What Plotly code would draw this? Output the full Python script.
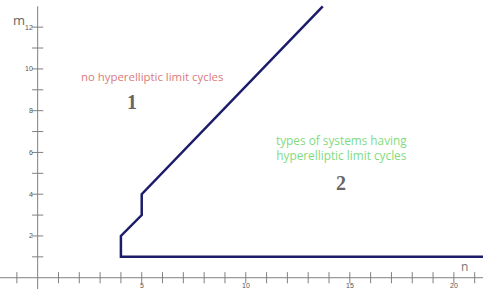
import plotly.graph_objects as go

# Boundary curve separating region 1 and region 2
boundary_n = [21.6, 4, 4, 5, 5, 13.7]
boundary_m = [1, 1, 2, 3, 4, 13.0]

# Axis ticks
x_ticks = [-1] + list(range(1, 22))
x_tick_labels = [5, 10, 15, 20]
y_ticks = list(range(1, 13))
y_tick_labels = [2, 4, 6, 8, 10, 12]

x_range = [-1.81, 21.4]
y_range = [-0.54, 13.3]

fig = go.Figure()

axis_col = "#808080"
# axis lines
fig.add_trace(go.Scatter(x=[x_range[0], x_range[1]], y=[0, 0], mode="lines",
                         line=dict(color=axis_col, width=1), hoverinfo="skip"))
fig.add_trace(go.Scatter(x=[0, 0], y=[y_range[0], 13.0], mode="lines",
                         line=dict(color=axis_col, width=1), hoverinfo="skip"))
# tick marks
fig.add_trace(go.Scatter(x=x_ticks, y=[0] * len(x_ticks), mode="markers",
                         marker=dict(symbol="line-ns", size=8, line=dict(color=axis_col, width=1)),
                         hoverinfo="skip"))
fig.add_trace(go.Scatter(x=[0] * len(y_ticks), y=y_ticks, mode="markers",
                         marker=dict(symbol="line-ew", size=8, line=dict(color=axis_col, width=1)),
                         hoverinfo="skip"))

# boundary
fig.add_trace(go.Scatter(x=boundary_n, y=boundary_m, mode="lines",
                         line=dict(color="#1c1c6b", width=2.5), hoverinfo="skip"))

lab_font = dict(family="Liberation Sans, Arial", size=7, color="#555555")
for v in x_tick_labels:
    fig.add_annotation(x=v, y=0, text=str(v), showarrow=False, yshift=-8, font=lab_font)
for v in y_tick_labels:
    fig.add_annotation(x=0, y=v, text=str(v), showarrow=False, xanchor="right", xshift=-3, font=lab_font)

fig.add_annotation(x=0, y=12, text="m", showarrow=False, xanchor="right", xshift=-11, yshift=7,
                   font=dict(family="Open Sans, Liberation Sans", size=13, color="#666666"))
fig.add_annotation(x=20.5, y=0, text="n", showarrow=False, yshift=11,
                   font=dict(family="Open Sans, Liberation Sans", size=12, color="#777777"))

txt_font = "Open Sans, Noto Sans, Liberation Sans"
fig.add_annotation(x=5.5, y=9.65, text="no hyperelliptic limit cycles", showarrow=False,
                   font=dict(family=txt_font, size=11.4, color="#d97b7b"))
fig.add_annotation(x=4.55, y=8.4, text="<b>1</b>", showarrow=False,
                   font=dict(family="Liberation Serif, Times New Roman", size=20, color="#666666"))
fig.add_annotation(x=14.6, y=6.25, text="types of systems having<br>hyperelliptic limit cycles",
                   showarrow=False,
                   font=dict(family=txt_font, size=11.8, color="#7fdb7f"))
fig.add_annotation(x=14.6, y=4.55, text="<b>2</b>", showarrow=False,
                   font=dict(family="Liberation Serif, Times New Roman", size=20, color="#666666"))

fig.update_layout(
    width=483, height=289,
    margin=dict(l=0, r=0, t=0, b=0),
    paper_bgcolor="white", plot_bgcolor="white",
    showlegend=False,
    xaxis=dict(range=x_range, visible=False, fixedrange=True),
    yaxis=dict(range=y_range, visible=False, fixedrange=True),
)

fig.write_html("out.html",
               config={"displayModeBar": False, "staticPlot": True},
               post_script="document.body.style.margin='0';document.body.style.overflow='hidden';")
